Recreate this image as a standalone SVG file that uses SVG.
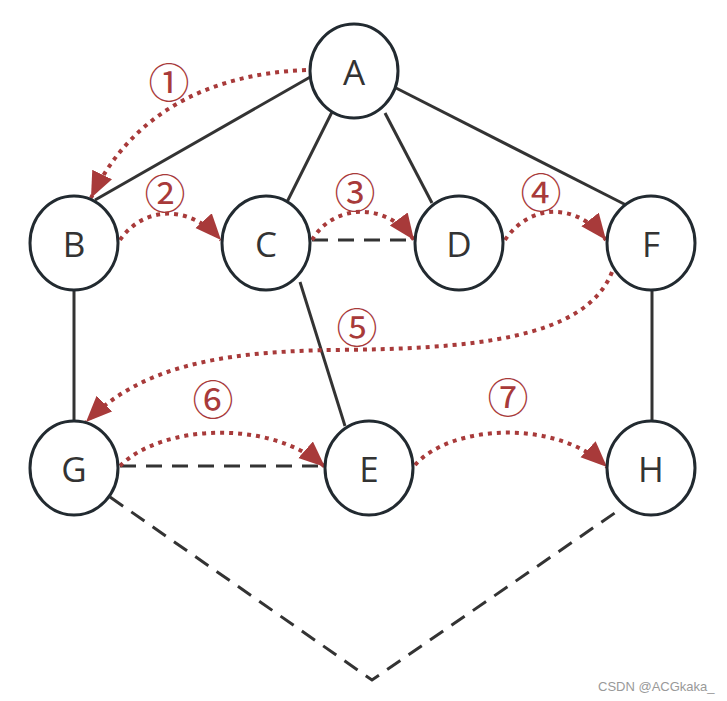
<svg xmlns="http://www.w3.org/2000/svg" width="727" height="701" viewBox="0 0 727 701">
<style>
.node ellipse{fill:#fff;stroke:#222a30;stroke-width:3}
.node text{font-family:"Open Sans","Noto Sans",sans-serif;font-size:35px;fill:#333;text-anchor:middle;dominant-baseline:central}
.edge{stroke:#333;stroke-width:3;fill:none}
.dash{stroke-dasharray:16 10}
.trav{stroke:#a83a3a;stroke-width:4;fill:none;stroke-dasharray:4 5;marker-end:url(#ah)}
.lbl{font-family:"Noto Sans CJK SC","DejaVu Sans",sans-serif;font-size:41px;fill:#a83a3a;text-anchor:middle;dominant-baseline:central}
</style>
<defs>
<marker id="ah" markerUnits="userSpaceOnUse" markerWidth="30" markerHeight="24" refX="26" refY="11" orient="auto">
<path d="M0,0 L26,11 L0,22 Z" fill="#a83a3a"/>
</marker>
</defs>
<rect width="727" height="701" fill="#fff"/>
<g id="connectors">
<line class="edge" x1="312" y1="76" x2="95" y2="200"/>
<line class="edge" x1="332" y1="112" x2="287" y2="202"/>
<line class="edge" x1="385" y1="113" x2="432" y2="203"/>
<line class="edge" x1="396" y1="88" x2="628" y2="206"/>
<line class="edge" x1="74" y1="290" x2="74" y2="421"/>
<line class="edge" x1="300" y1="282" x2="345" y2="426"/>
<line class="edge" x1="652" y1="290" x2="652" y2="421"/>
<line class="edge dash" x1="312" y1="240" x2="415" y2="240"/>
<line class="edge dash" x1="120" y1="466" x2="325" y2="466"/>
<polyline class="edge dash" points="110,497 372,680 622,508"/>
<path class="trav" d="M306,70 C210,74 132,112 91,198"/>
<path class="trav" d="M120,240 C140,210 185,200 221,240"/>
<path class="trav" d="M312,240 C332,205 385,200 414,240"/>
<path class="trav" d="M505,240 C528,205 575,200 606,240"/>
<path class="trav" d="M612,272 C585,340 470,349 330,350 C215,352 140,368 86,422"/>
<path class="trav" d="M120,466 C160,425 270,418 325,467"/>
<path class="trav" d="M415,465 C450,425 555,418 607,467"/>
</g>
<g id="labels">
<text class="lbl" x="169" y="80">①</text>
<text class="lbl" x="165" y="191">②</text>
<text class="lbl" x="355" y="190">③</text>
<text class="lbl" x="541" y="190">④</text>
<text class="lbl" x="357" y="325">⑤</text>
<text class="lbl" x="213" y="397">⑥</text>
<text class="lbl" x="508" y="395">⑦</text>
</g>
<g id="A" class="node"><ellipse cx="354" cy="71" rx="44" ry="47"/><text x="354" y="71">A</text></g>
<g id="B" class="node"><ellipse cx="74" cy="243" rx="44" ry="47"/><text x="74" y="243">B</text></g>
<g id="C" class="node"><ellipse cx="266" cy="243" rx="44" ry="47"/><text x="266" y="243">C</text></g>
<g id="D" class="node"><ellipse cx="459" cy="243" rx="44" ry="47"/><text x="459" y="243">D</text></g>
<g id="F" class="node"><ellipse cx="651" cy="243" rx="44" ry="47"/><text x="651" y="243">F</text></g>
<g id="G" class="node"><ellipse cx="74" cy="468" rx="44" ry="47"/><text x="74" y="468">G</text></g>
<g id="E" class="node"><ellipse cx="369" cy="468" rx="44" ry="47"/><text x="369" y="468">E</text></g>
<g id="H" class="node"><ellipse cx="651" cy="468" rx="44" ry="47"/><text x="651" y="468">H</text></g>
<text x="598" y="691" font-family="Liberation Sans,Arial,sans-serif" font-size="13" fill="#999">CSDN @ACGkaka_</text>
</svg>
